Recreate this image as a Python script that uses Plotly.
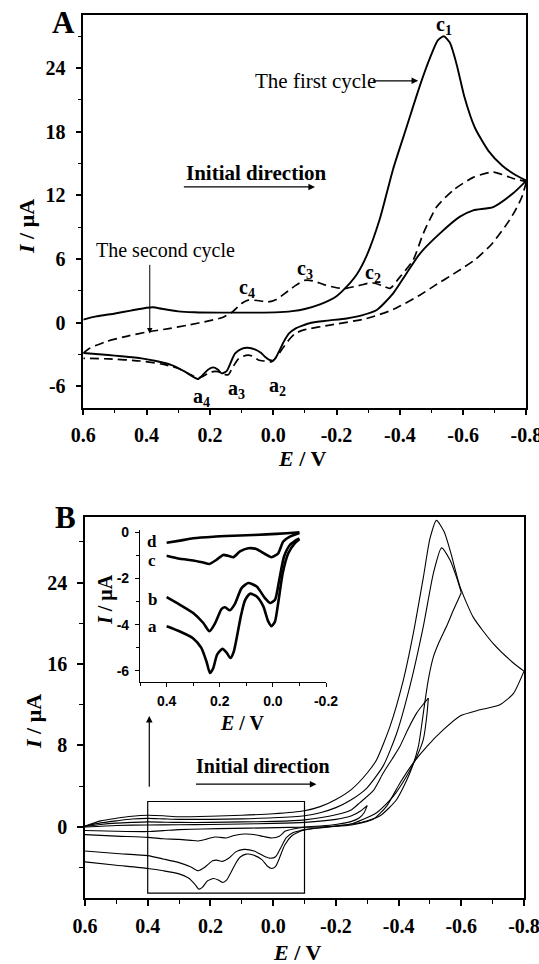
import numpy as np
import plotly.graph_objects as go

# ---------------- Panel A: first (solid) and second (dashed) cycle ----------------
A1_fwd_E = [0.6, 0.56, 0.5, 0.45, 0.4, 0.38, 0.352, 0.3, 0.25, 0.15, 0.05, -0.005, -0.06, -0.1,
            -0.15, -0.2, -0.232, -0.265, -0.295, -0.337, -0.379, -0.421, -0.463, -0.496, -0.52,
            -0.539, -0.558, -0.58, -0.604, -0.637, -0.68, -0.724, -0.767, -0.8]
A1_fwd_I = [0.3, 0.6, 0.88, 1.15, 1.42, 1.47, 1.32, 1.08, 1.0, 0.96, 0.96, 0.98, 1.1, 1.3,
            1.75, 2.5, 3.4, 4.6, 6.3, 9.8, 14.5, 18.4, 22.3, 25.0, 26.6,
            27.0, 26.4, 24.3, 21.3, 18.4, 16.2, 14.8, 13.9, 13.4]
A1_rev_E = [-0.8, -0.758, -0.695, -0.632, -0.59, -0.526, -0.463, -0.421, -0.379, -0.327, -0.28,
            -0.232, -0.17, -0.12, -0.09, -0.07, -0.05, -0.035, -0.02, -0.008, 0.0, 0.012, 0.026,
            0.04, 0.058, 0.08, 0.1, 0.121, 0.135, 0.147, 0.163, 0.175, 0.19, 0.205, 0.222, 0.237,
            0.255, 0.279, 0.321, 0.37, 0.416, 0.48, 0.521, 0.6]
A1_rev_I = [13.4, 12.2, 10.9, 10.6, 10.0, 8.4, 6.5, 4.65, 2.77, 1.2, 0.7,
            0.41, 0.2, 0.0, -0.3, -0.55, -1.0, -1.7, -2.6, -3.3, -3.57, -3.5, -3.2,
            -2.8, -2.5, -2.35, -2.45, -2.9, -3.8, -4.55, -4.76, -4.4, -4.2, -4.4, -4.9, -5.3,
            -5.05, -4.6, -3.98, -3.6, -3.35, -3.15, -3.04, -2.85]

A2_fwd_E = [0.6, 0.58, 0.526, 0.46, 0.395, 0.33, 0.27, 0.2, 0.16, 0.13, 0.1, 0.079, 0.05, 0.016,
            -0.01, -0.037, -0.07, -0.1, -0.125, -0.16, -0.2, -0.23, -0.27, -0.3, -0.316, -0.345,
            -0.369, -0.4, -0.442, -0.474, -0.516, -0.569, -0.632, -0.695, -0.758, -0.8]
A2_fwd_I = [-2.85, -2.4, -1.75, -1.25, -0.85, -0.55, -0.22, 0.2, 0.5, 1.0, 1.82, 2.13, 2.1, 1.98,
            2.2, 2.77, 3.5, 4.0, 3.95, 3.6, 3.3, 3.25, 3.5, 3.72, 3.75, 3.5,
            3.24, 4.3, 5.9, 8.4, 10.9, 12.5, 13.7, 14.2, 13.6, 13.3]
A2_rev_E = [-0.8, -0.785, -0.765, -0.745, -0.69, -0.64, -0.58, -0.51, -0.463, -0.379, -0.295,
            -0.179, -0.1, -0.07, -0.05, -0.03, -0.016, 0.005, 0.03, 0.047, 0.065, 0.079, 0.095,
            0.11, 0.128, 0.142, 0.16, 0.174, 0.19, 0.205, 0.222, 0.237, 0.26, 0.3, 0.35, 0.42,
            0.52, 0.6]
A2_rev_I = [13.3, 11.8, 10.6, 9.6, 7.4, 6.0, 4.8, 3.5, 2.6, 1.25, 0.4,
            -0.22, -0.65, -1.0, -1.6, -2.4, -3.0, -3.67, -3.6, -3.5, -3.15, -3.04, -3.15,
            -3.4, -4.2, -4.9, -4.8, -4.6, -4.6, -4.76, -5.05, -5.2, -4.9, -4.3, -3.9, -3.6,
            -3.4, -3.35]

# ---------------- Panel B: sweeps with switching potentials a-d ----------------
Ba_fwd_E = [0.6, 0.55, 0.5, 0.45, 0.4, 0.35, 0.3, 0.2, 0.1, 0.0, -0.1, -0.15, -0.2, -0.25, -0.3,
            -0.33, -0.373, -0.415, -0.447, -0.479, -0.5, -0.521, -0.545, -0.564, -0.596, -0.638,
            -0.702, -0.766, -0.8]
Ba_fwd_I = [0.1, 0.6, 0.85, 1.05, 1.15, 1.1, 1.0, 1.05, 1.15, 1.3, 1.6, 2.0, 2.7, 3.7, 5.3,
            6.6, 9.9, 14.4, 19.0, 24.5, 28.3, 30.1, 29.0, 27.2, 23.6, 20.6,
            18.0, 16.1, 15.3]
Ba_rev_E = [-0.8, -0.766, -0.723, -0.66, -0.596, -0.543, -0.49, -0.447, -0.404, -0.362, -0.319,
            -0.25, -0.18, -0.13, -0.1, -0.083, -0.058, -0.037, -0.02, -0.008, 0.005, 0.018, 0.036,
            0.061, 0.086, 0.105, 0.12, 0.135, 0.148, 0.16, 0.175, 0.19, 0.21, 0.225, 0.237, 0.25,
            0.27, 0.3, 0.35, 0.4, 0.5, 0.6]
Ba_rev_I = [15.3, 13.1, 12.0, 11.5, 10.9, 9.55, 7.9, 6.3, 4.3, 2.05, 0.75,
            0.2, 0.0, -0.15, -0.3, -0.47, -0.91, -1.77, -3.06, -3.86, -4.07, -3.85, -3.21,
            -2.78, -2.66, -2.95, -3.6, -4.5, -5.2, -5.45, -5.2, -5.05, -5.3, -5.9, -6.1, -5.6,
            -5.0, -4.6, -4.3, -4.07, -3.75, -3.42]

Bb_fwd_E = [0.6, 0.55, 0.5, 0.45, 0.4, 0.35, 0.3, 0.2, 0.1, 0.0, -0.1, -0.15, -0.2, -0.245, -0.298,
            -0.351, -0.394, -0.436, -0.479, -0.511, -0.537, -0.564, -0.585, -0.6]
Bb_fwd_I = [0.1, 0.4, 0.6, 0.78, 0.85, 0.8, 0.75, 0.75, 0.8, 0.9, 1.1, 1.4, 1.9, 2.6, 3.8,
            6.0, 9.2, 13.8, 19.7, 24.9, 27.4, 26.2, 24.5, 23.0]
Bb_rev_E = [-0.6, -0.575, -0.553, -0.53, -0.511, -0.495, -0.485, -0.475, -0.463, -0.436, -0.394,
            -0.341, -0.28, -0.2, -0.14, -0.1, -0.089, -0.064, -0.042, -0.024, -0.008, 0.011, 0.03,
            0.061, 0.093, 0.118, 0.143, 0.162, 0.18, 0.193, 0.218, 0.239, 0.262, 0.3, 0.35, 0.4,
            0.5, 0.6]
Bb_rev_I = [23.0, 21.3, 19.7, 18.2, 16.7, 14.5, 12.5, 10.3, 7.9, 5.3, 2.7,
            1.1, 0.45, 0.1, -0.1, -0.26, -0.33, -0.55, -1.05, -2.06, -2.92, -3.06, -2.85,
            -2.35, -2.2, -2.42, -3.1, -3.38, -3.25, -3.32, -3.95, -4.29, -3.93, -3.5, -3.14, -2.81,
            -2.6, -2.35]

Bc_fwd_E = [0.6, 0.55, 0.5, 0.45, 0.4, 0.3, 0.2, 0.1, 0.0, -0.1, -0.2, -0.25, -0.277, -0.32,
            -0.351, -0.38, -0.404, -0.43, -0.458, -0.48, -0.495]
Bc_fwd_I = [0.05, 0.25, 0.38, 0.45, 0.5, 0.45, 0.45, 0.5, 0.55, 0.7, 1.2, 1.7, 2.4, 3.6,
            5.3, 6.7, 7.9, 9.6, 11.2, 12.1, 12.65]
Bc_rev_E = [-0.495, -0.49, -0.479, -0.458, -0.426, -0.383, -0.33, -0.245, -0.2, -0.14, -0.1,
            -0.064, -0.039, -0.02, 0.005, 0.03, 0.061, 0.093, 0.124, 0.149, 0.168, 0.187, 0.212,
            0.239, 0.262, 0.3, 0.35, 0.4, 0.5, 0.6]
Bc_rev_I = [12.65, 10.9, 8.6, 6.9, 5.0, 3.0, 1.4, 0.26, 0.1, 0.0, -0.03,
            -0.19, -0.4, -0.91, -1.08, -0.94, -0.73, -0.69, -0.83, -1.08, -1.02, -0.98, -1.19,
            -1.37, -1.31, -1.22, -1.15, -1.02, -0.9, -0.75]

Bd_fwd_E = [0.6, 0.5, 0.4, 0.3, 0.2, 0.1, 0.0, -0.1, -0.2, -0.25, -0.28, -0.3]
Bd_fwd_I = [0.0, 0.15, 0.2, 0.22, 0.25, 0.3, 0.35, 0.45, 0.75, 1.1, 1.6, 2.1]
Bd_rev_E = [-0.3, -0.29, -0.275, -0.25, -0.2, -0.15, -0.1, -0.052, 0.024, 0.124, 0.224, 0.3,
            0.35, 0.4, 0.5, 0.6]
Bd_rev_I = [2.1, 1.4, 0.9, 0.55, 0.25, 0.1, 0.0, -0.04, -0.09, -0.14, -0.19, -0.26,
            -0.36, -0.45, -0.42, -0.35]

# potential window magnified in the inset
ZOOM_E = (0.4, -0.1)
ZOOM_I = (-6.5, 2.5)

# tick labels
E_ticks = [0.6, 0.4, 0.2, 0.0, -0.2, -0.4, -0.6, -0.8]
E_ticktext = ["0.6", "0.4", "0.2", "0.0", "-0.2", "-0.4", "-0.6", "-0.8"]
A_I_ticks = [-6, 0, 6, 12, 18, 24]
A_I_ticktext = ["-6", "0", "6", "12", "18", "24"]
B_I_ticks = [0, 8, 16, 24]
B_I_ticktext = ["0", "8", "16", "24"]
In_E_ticks = [0.4, 0.2, 0.0, -0.2]
In_E_ticktext = ["0.4", "0.2", "0.0", "-0.2"]
In_I_ticks = [0, -2, -4, -6]
In_I_ticktext = ["0", "-2", "-4", "-6"]

SERIF = "Liberation Serif"
SANS = "Liberation Sans"
W, H = 539, 964

fig = go.Figure()


def curve(E, I, xa, ya, width, dash="solid"):
    fig.add_trace(go.Scatter(
        x=E, y=I, xaxis=xa, yaxis=ya, mode="lines",
        line=dict(color="black", width=width, dash=dash, shape="spline", smoothing=0.6),
        showlegend=False, hoverinfo="skip"))


# Panel A
curve(A1_fwd_E, A1_fwd_I, "x", "y", 1.9)
curve(A1_rev_E, A1_rev_I, "x", "y", 1.9)
curve(A2_fwd_E, A2_fwd_I, "x", "y", 1.7, "9px,5px")
curve(A2_rev_E, A2_rev_I, "x", "y", 1.7, "9px,5px")

# Panel B
sweeps = [(Ba_fwd_E, Ba_fwd_I, Ba_rev_E, Ba_rev_I),
          (Bb_fwd_E, Bb_fwd_I, Bb_rev_E, Bb_rev_I),
          (Bc_fwd_E, Bc_fwd_I, Bc_rev_E, Bc_rev_I),
          (Bd_fwd_E, Bd_fwd_I, Bd_rev_E, Bd_rev_I)]
for fE, fI, rE, rI in sweeps:
    curve(fE, fI, "x2", "y2", 1.1)
    curve(rE, rI, "x2", "y2", 1.1)

# Inset: reverse sweeps inside the magnified window
for _, _, rE, rI in sweeps:
    rE = np.asarray(rE)
    rI = np.asarray(rI)
    m = (rE <= ZOOM_E[0] + 1e-9) & (rE >= ZOOM_E[1] - 1e-9)
    curve(rE[m], rI[m], "x3", "y3", 2.6)


def axis_style(tickvals, ticktext, minor_vals, rng, domain, anchor, font_family, font_size,
               mirror=True, ticklen=6, minorlen=4, standoff=2, lw=1.5):
    return dict(
        range=rng, domain=domain, anchor=anchor, automargin=False,
        showline=True, linewidth=lw, linecolor="black", mirror=mirror,
        showgrid=False, zeroline=False,
        tickmode="array", tickvals=tickvals, ticktext=ticktext,
        ticks="outside", ticklen=ticklen, tickwidth=lw, tickcolor="black",
        ticklabelstandoff=standoff, ticklabeloverflow="allow",
        tickfont=dict(family=font_family, size=font_size, color="black", weight="bold"),
        minor=dict(tickvals=minor_vals, ticks="outside", ticklen=minorlen,
                   tickwidth=lw * 0.8, tickcolor="black"),
    )


E_minor = [0.5, 0.3, 0.1, -0.1, -0.3, -0.5, -0.7]
dom_A_x = [83.3 / W, 526.4 / W]
dom_A_y = [1 - 407.7 / H, 1 - 15 / H]
dom_B_x = [85 / W, 524 / W]
dom_B_y = [1 - 898.3 / H, 1 - 517.3 / H]
dom_In_x = [140.1 / W, 326 / W]
dom_In_y = [1 - 682.3 / H, 1 - 530 / H]

fig.update_layout(
    template="none",
    width=W, height=H, autosize=False,
    margin=dict(l=0, r=0, t=0, b=0, pad=0),
    paper_bgcolor="white", plot_bgcolor="rgba(0,0,0,0)",
    showlegend=False,
    xaxis=axis_style(E_ticks, E_ticktext, E_minor, [0.6, -0.8], dom_A_x, "y", SERIF, 20,
                     standoff=3),
    yaxis=axis_style(A_I_ticks, A_I_ticktext, [-3, 3, 9, 15, 21, 27], [-8, 29], dom_A_y, "x",
                     SERIF, 20, standoff=6),
    xaxis2=axis_style(E_ticks, E_ticktext, E_minor, [0.6, -0.8], dom_B_x, "y2", SERIF, 20,
                      standoff=3),
    yaxis2=axis_style(B_I_ticks, B_I_ticktext, [-4, 4, 12, 20, 28], [-7, 30.4], dom_B_y, "x2",
                      SERIF, 20, standoff=6),
    xaxis3=axis_style(In_E_ticks, In_E_ticktext, [0.5, 0.3, 0.1, -0.1], [0.5, -0.2], dom_In_x,
                      "y3", SANS, 14, mirror=False, ticklen=4, minorlen=3, standoff=2, lw=1.3),
    yaxis3=axis_style(In_I_ticks, In_I_ticktext, [-1, -3, -5], [-6.5, 0.1], dom_In_y, "x3",
                      SANS, 14, mirror=False, ticklen=4, minorlen=3, standoff=3, lw=1.3),
)

# rectangle marking the magnified window
fig.add_shape(type="rect", xref="x2", yref="y2", x0=ZOOM_E[0], x1=ZOOM_E[1],
              y0=ZOOM_I[0], y1=ZOOM_I[1], line=dict(color="black", width=1.2))

ann = []


def text(x, y, s, xref, yref, size=20, bold=True, angle=0, family=SERIF, xanchor="center",
         yanchor="middle"):
    ann.append(dict(x=x, y=y, xref=xref, yref=yref, text=s, showarrow=False, textangle=angle,
                    xanchor=xanchor, yanchor=yanchor,
                    font=dict(family=family, size=size, color="black",
                              weight="bold" if bold else "normal")))


def arrow(x_head, y_head, x_tail, y_tail, xr, yr, width=1.2):
    ann.append(dict(x=x_head, y=y_head, ax=x_tail, ay=y_tail, xref=xr, yref=yr,
                    axref=xr, ayref=yr, text="", showarrow=True, arrowhead=2,
                    arrowsize=1.1, arrowwidth=width, arrowcolor="black"))


# panel letters
text(63 / W, 1 - 22 / H, "A", "paper", "paper", size=31)
text(65 / W, 1 - 517 / H, "B", "paper", "paper", size=31)

# axis titles
text(26 / W, 1 - 227 / H, "<i>I</i> / μA", "paper", "paper", size=22, angle=-90)
text(302 / W, 1 - 458 / H, "<i>E</i> / V", "paper", "paper", size=22)
text(33 / W, 1 - 722 / H, "<i>I</i> / μA", "paper", "paper", size=22, angle=-90)
text(297 / W, 1 - 952 / H, "<i>E</i> / V", "paper", "paper", size=22)
text(105 / W, 1 - 600 / H, "<i>I</i> / μA", "paper", "paper", size=20, angle=-90)
text(242 / W, 1 - 723 / H, "<i>E</i> / V", "paper", "paper", size=20)

# panel A annotations
text(-0.33, 22.8, "The first cycle", "x", "y", size=21, bold=False, xanchor="right")
arrow(-0.458, 22.8, -0.31, 22.8, "x", "y")
text(0.053, 14.1, "Initial direction", "x", "y", size=21)
arrow(-0.132, 12.8, 0.287, 12.8, "x", "y")
text(0.339, 6.8, "The second cycle", "x", "y", size=20, bold=False)
arrow(0.39, -1.0, 0.39, 5.6, "x", "y", width=1.0)
text(-0.54, 28.0, "c<sub>1</sub>", "x", "y", size=20)
text(0.083, 3.2, "c<sub>4</sub>", "x", "y", size=20)
text(-0.102, 5.0, "c<sub>3</sub>", "x", "y", size=20)
text(-0.316, 4.6, "c<sub>2</sub>", "x", "y", size=20)
text(0.227, -7.0, "a<sub>4</sub>", "x", "y", size=20)
text(0.115, -6.3, "a<sub>3</sub>", "x", "y", size=20)
text(-0.012, -6.0, "a<sub>2</sub>", "x", "y", size=20)

# panel B annotations
text(0.031, 6.0, "Initial direction", "x2", "y2", size=20)
arrow(-0.138, 4.2, 0.251, 4.2, "x2", "y2")
arrow(0.395, 10.9, 0.395, 3.8, "x2", "y2")

# inset curve labels
text(0.455, -4.07, "a", "x3", "y3", size=17)
text(0.455, -2.89, "b", "x3", "y3", size=17)
text(0.455, -1.2, "c", "x3", "y3", size=17)
text(0.455, -0.4, "d", "x3", "y3", size=17)

fig.update_layout(annotations=ann)
fig.write_html("out.html")
